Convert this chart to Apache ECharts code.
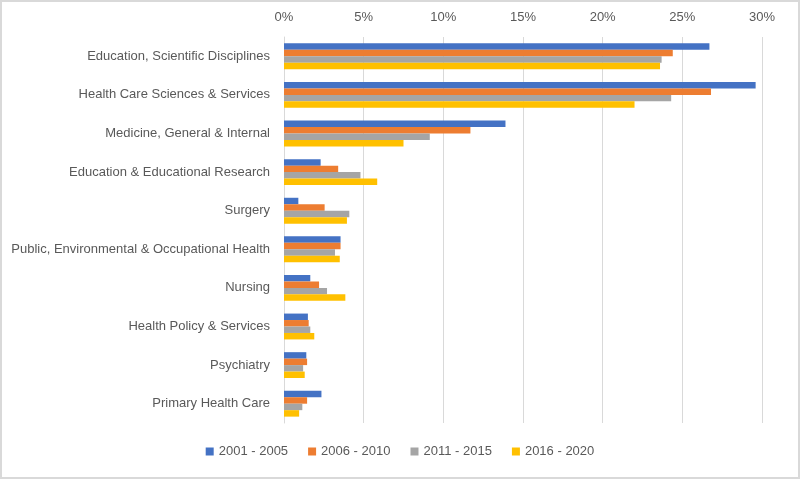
<!DOCTYPE html>
<html>
<head>
<meta charset="utf-8">
<script src="https://cdn.jsdelivr.net/npm/echarts@6/dist/echarts.min.js"></script>
<style>
html,body{margin:0;padding:0;background:#fff;}
#frame{position:absolute;left:0;top:0;width:800px;height:479px;box-sizing:border-box;border:2px solid #d9d9d9;background:#fff;}
#chart{position:absolute;left:0;top:0;width:800px;height:479px;}
</style>
</head>
<body>
<div id="frame"></div>
<div id="chart"></div>
<script>
const categories = [
  "Education, Scientific Disciplines",
  "Health Care Sciences & Services",
  "Medicine, General & Internal",
  "Education & Educational Research",
  "Surgery",
  "Public, Environmental & Occupational Health",
  "Nursing",
  "Health Policy & Services",
  "Psychiatry",
  "Primary Health Care"
];
const seriesNames = ["2001 - 2005", "2006 - 2010", "2011 - 2015", "2016 - 2020"];
const s2001 = [26.7, 29.6, 13.9, 2.3, 0.9, 3.55, 1.65, 1.5, 1.4, 2.35];
const s2006 = [24.4, 26.8, 11.7, 3.4, 2.55, 3.55, 2.2, 1.55, 1.45, 1.45];
const s2011 = [23.7, 24.3, 9.15, 4.8, 4.1, 3.2, 2.7, 1.65, 1.2, 1.15];
const s2016 = [23.6, 22.0, 7.5, 5.85, 3.95, 3.5, 3.85, 1.9, 1.3, 0.95];
const xTicks = [0, 5, 10, 15, 20, 25, 30];
const colors = ["#4472C4", "#ED7D31", "#A5A5A5", "#FFC000"];

const chart = echarts.init(document.getElementById('chart'), null, {renderer: 'canvas'});
const values = [s2001, s2006, s2011, s2016];
chart.setOption({
  animation: false,
  color: colors,
  textStyle: {fontFamily: 'Liberation Sans, Arial, sans-serif'},
  grid: {left: 284, right: 38, top: 37, bottom: 56, containLabel: false},
  legend: {
    bottom: 16,
    left: 'center',
    itemWidth: 8,
    itemHeight: 8,
    itemGap: 20,
    icon: 'rect',
    textStyle: {color: '#595959', fontSize: 13},
    data: seriesNames
  },
  xAxis: {
    type: 'value',
    position: 'top',
    min: xTicks[0],
    max: xTicks[xTicks.length - 1],
    interval: 5,
    axisLine: {show: false},
    axisTick: {show: false},
    splitLine: {show: true, lineStyle: {color: '#d9d9d9', width: 1}},
    axisLabel: {color: '#595959', fontSize: 13, margin: 13, formatter: v => v + '%'}
  },
  yAxis: {
    type: 'category',
    inverse: true,
    data: categories,
    axisLine: {show: true, lineStyle: {color: '#d9d9d9'}},
    axisTick: {show: false},
    axisLabel: {color: '#595959', fontSize: 13, margin: 14}
  },
  series: seriesNames.map((n, i) => ({
    name: n,
    type: 'bar',
    data: values[i],
    barGap: '0%',
    barCategoryGap: '33%',
    itemStyle: {color: colors[i]}
  }))
});
</script>
</body>
</html>
